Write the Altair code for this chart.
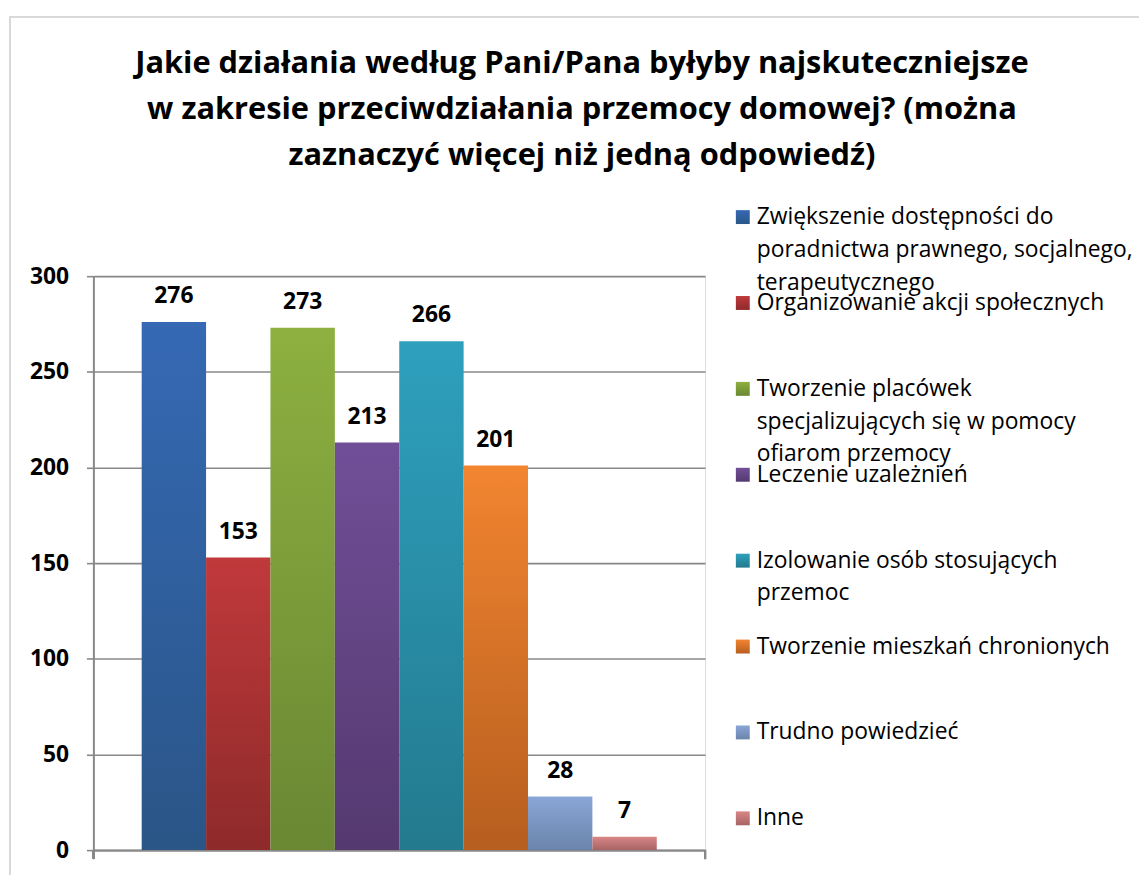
import altair as alt
import pandas as pd

categories = [
    "Zwiększenie dostępności do poradnictwa prawnego, socjalnego, terapeutycznego",
    "Organizowanie akcji społecznych",
    "Tworzenie placówek specjalizujących się w pomocy ofiarom przemocy",
    "Leczenie uzależnień",
    "Izolowanie osób stosujących przemoc",
    "Tworzenie mieszkań chronionych",
    "Trudno powiedzieć",
    "Inne",
]
values = [276, 153, 273, 213, 266, 201, 28, 7]
legend_labels = [
    "Zwiększenie dostępności do\nporadnictwa prawnego, socjalnego,\nterapeutycznego",
    "Organizowanie akcji społecznych",
    "Tworzenie placówek\nspecjalizujących się w pomocy\nofiarom przemocy",
    "Leczenie uzależnień",
    "Izolowanie osób stosujących\nprzemoc",
    "Tworzenie mieszkań chronionych",
    "Trudno powiedzieć",
    "Inne",
]
y_ticks = [0, 50, 100, 150, 200, 250, 300]
top_colors = ["#3569B4", "#C0393B", "#8DB040", "#714F98", "#2EA0BE", "#F28530", "#89A6D6", "#D98686"]
bottom_colors = ["#2A5587", "#8E2A2A", "#6A8733", "#54396F", "#237A8E", "#B65E1F", "#6B84AB", "#A76464"]

title_lines = [
    "Jakie działania według Pani/Pana byłyby najskuteczniejsze",
    "w zakresie przeciwdziałania przemocy domowej? (można",
    "zaznaczyć więcej niż jedną odpowiedź)",
]

df = pd.DataFrame({
    "category": categories,
    "value": values,
    "legend": legend_labels,
    "idx": list(range(len(categories))),
})

FONT = "Open Sans"
W, H = 616, 578
GRAY = "#888888"

def grad(top, bottom):
    return alt.Gradient(
        gradient="linear",
        stops=[alt.GradientStop(color=top, offset=0), alt.GradientStop(color=bottom, offset=1)],
        x1=0, x2=0, y1=0, y2=1,
    )

x_enc = alt.X(
    "category:N",
    sort=categories,
    scale=alt.Scale(domain=categories, paddingInner=0, paddingOuter=0.75, round=False),
    axis=alt.Axis(labels=False, ticks=False, title=None, domainColor=GRAY, domainWidth=2, grid=False),
)
y_scale = alt.Scale(domain=[0, 300], nice=False)
y_axis = alt.Axis(
    values=y_ticks,
    title=None,
    labelFont=FONT, labelFontSize=23, labelFontWeight="bold", labelColor="#000000",
    labelPadding=18, tickSize=7, tickColor=GRAY, tickWidth=1.6,
    domainColor=GRAY, domainWidth=2,
    gridColor=GRAY, gridWidth=1.6, grid=True,
)
y_enc = alt.Y("value:Q", scale=y_scale, axis=y_axis)

base = alt.Chart(df)

bar_layers = []
for i, cat in enumerate(categories):
    bar_layers.append(
        base.transform_filter(alt.datum.category == cat)
        .mark_bar(color=grad(top_colors[i], bottom_colors[i]))
        .encode(x=x_enc, y=y_enc)
    )

labels = base.mark_text(
    font=FONT, fontSize=23, fontWeight="bold", color="#000000", baseline="alphabetic", dy=-19
).encode(
    x=x_enc,
    y=y_enc,
    text=alt.Text("value:Q"),
)

end_ticks = base.mark_rule(color=GRAY, strokeWidth=2).encode(
    x=alt.value(W), y=alt.value(H), y2=alt.value(H + 9)
)
left_tick = base.mark_rule(color=GRAY, strokeWidth=2).encode(
    x=alt.value(0), y=alt.value(H), y2=alt.value(H + 9)
)

plot_group = alt.layer(*bar_layers, labels, end_ticks, left_tick)

leg_y = alt.Y("idx:Q", scale=alt.Scale(domain=[0, 7], range=[-59.5, 546], nice=False, zero=False), axis=None)
leg_layers = []
for i, cat in enumerate(categories):
    leg_layers.append(
        base.transform_filter(alt.datum.category == cat)
        .mark_square(size=196, color=grad(top_colors[i], bottom_colors[i]), opacity=1, filled=True)
        .encode(x=alt.value(654), y=leg_y)
    )
leg_text = base.mark_text(
    font=FONT, fontSize=23, color="#000000", align="left", baseline="alphabetic",
    lineBreak="\n", lineHeight=33, dy=7,
).encode(x=alt.value(668), y=leg_y, text="legend:N")
legend_group = alt.layer(*leg_layers, leg_text)

title_mark = alt.Chart(pd.DataFrame({"t": [0]})).mark_text(
    text=title_lines, font=FONT, fontSize=31, fontWeight="bold", color="#000000",
    align="center", baseline="alphabetic", lineHeight=46.5,
).encode(x=alt.value(492), y=alt.value(-205))

border = base.mark_rect(fillOpacity=0, stroke="#d9d9d9", strokeWidth=1.5).encode(
    x=alt.value(-84), x2=alt.value(1100), y=alt.value(-261), y2=alt.value(700)
)

chart = alt.layer(plot_group, legend_group, title_mark, border).resolve_scale(y="independent").properties(
    width=W,
    height=H,
    autosize=alt.AutoSizeParams(type="none"),
    padding={"left": 86, "top": 267, "right": 437, "bottom": 22},
).configure_view(stroke=None).configure(background="white")

chart.save("out.html", embed_options={"renderer": "svg", "actions": False})
